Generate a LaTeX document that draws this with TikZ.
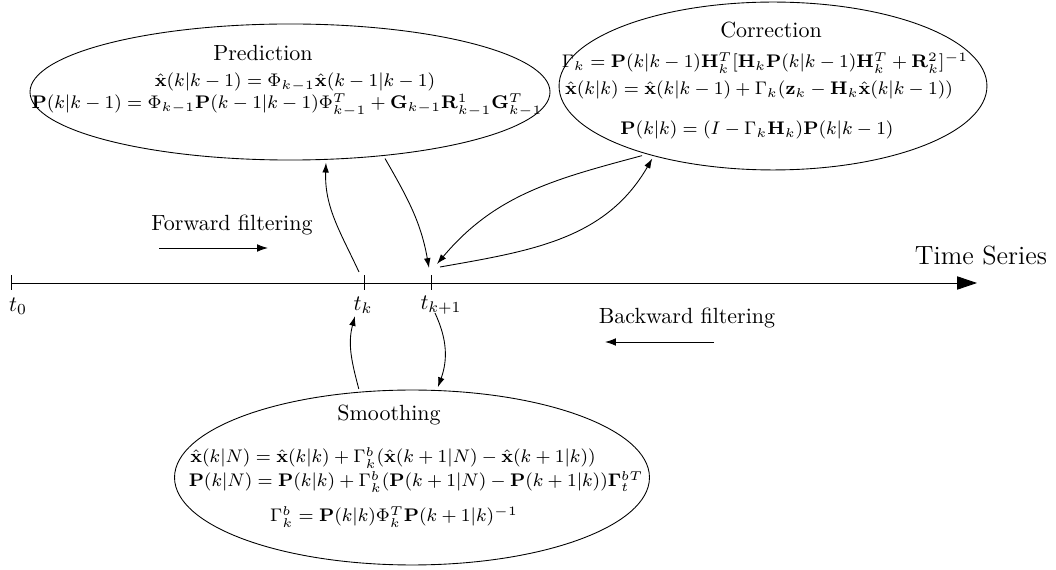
\documentclass[tikz,border=0pt]{standalone}
\usepackage{fix-cm}
\usepackage{amsmath}
\usetikzlibrary{shapes.geometric,arrows.meta}
\begin{document}
\begin{tikzpicture}[x=0.455pt, y=-0.455pt,
  phase/.style={ellipse, draw, inner sep=0pt, outer sep=1.5pt},
  eq/.style={font=\fontsize{8.3pt}{10pt}\selectfont, inner sep=1pt},
  conn/.style={-{Latex[length=4.5pt,width=3pt]}},
  dirarrow/.style={-{Latex[length=5pt,width=3.5pt]}}]
\useasboundingbox (0,0) rectangle (1056,570);
% the three phases
\node[phase, minimum width=236.6pt, minimum height=61.9pt] (pred) at (290,92) {};
\node[phase, minimum width=194.7pt, minimum height=76.4pt] (corr) at (773,86) {};
\node[phase, minimum width=216.1pt, minimum height=79.6pt] (smooth) at (412,477.5) {};
\node (predtitle) at (263,53) {Prediction};
\node[eq] (predeqa) at (295,82) {$\hat{\mathbf{x}}(k|k-1) = \Phi_{k-1}\hat{\mathbf{x}}(k-1|k-1)$};
\node[eq] (predeqb) at (287,105) {$\mathbf{P}(k|k-1) = \Phi_{k-1}\mathbf{P}(k-1|k-1)\Phi_{k-1}^T + \mathbf{G}_{k-1}\mathbf{R}_{k-1}^1\mathbf{G}_{k-1}^T$};
\node (corrtitle) at (771,30) {Correction};
\node[eq] (correqa) at (765,63) {$\Gamma_k = \mathbf{P}(k|k-1)\mathbf{H}_k^T[\mathbf{H}_k\mathbf{P}(k|k-1)\mathbf{H}_k^T + \mathbf{R}_k^2]^{-1}$};
\node[eq] (correqb) at (759,90) {$\hat{\mathbf{x}}(k|k) = \hat{\mathbf{x}}(k|k-1) + \Gamma_k(\mathbf{z}_k - \mathbf{H}_k\hat{\mathbf{x}}(k|k-1))$};
\node[eq] (correqc) at (757,130) {$\mathbf{P}(k|k) = (I - \Gamma_k\mathbf{H}_k)\mathbf{P}(k|k-1)$};
\node (smoothtitle) at (389,415) {Smoothing};
\node[eq] (smootheqa) at (393,458) {$\hat{\mathbf{x}}(k|N) = \hat{\mathbf{x}}(k|k) + \Gamma_k^b(\hat{\mathbf{x}}(k+1|N) - \hat{\mathbf{x}}(k+1|k))$};
\node[eq] (smootheqb) at (416,482) {$\mathbf{P}(k|N) = \mathbf{P}(k|k) + \Gamma_k^b(\mathbf{P}(k+1|N) - \mathbf{P}(k+1|k))\mathbf{\Gamma}_t^{bT}$};
\node[eq] (smootheqc) at (394,517) {$\Gamma_k^b = \mathbf{P}(k|k)\Phi_k^T\mathbf{P}(k+1|k)^{-1}$};
% time axis
\coordinate (t0) at (11,283);
\coordinate (tk) at (364,283);
\coordinate (tk1) at (431,283);
\coordinate (tend) at (977,283);
\draw[-{Triangle[length=9pt,width=6pt]}] (t0) -- (tend);
\foreach \t in {t0,tk,tk1}
  \draw (\t) ++(0,-7.5) -- ++(0,15);
\node[font=\large] (tslabel) at (981,255) {Time Series};
\node (lt0) at (18,306) {$t_0$};
\node (ltk) at (363,305) {$t_k$};
\node (ltk1) at (441,305) {$t_{k+1}$};
% filtering directions
\node (fwtext) at (232,225) {Forward filtering};
\coordinate (fwa) at (159,248);
\coordinate (fwb) at (268,248);
\draw[dirarrow] (fwa) -- (fwb);
\node (bwtext) at (687,318) {Backward filtering};
\coordinate (bwa) at (714,342);
\coordinate (bwb) at (605,342);
\draw[dirarrow] (bwa) -- (bwb);
% connectors
\coordinate (kup) at (359,272);
\coordinate (konein) at (429,268);
\coordinate (koneback) at (437,264);
\coordinate (koneout) at (440,267);
\coordinate (kdown) at (355,316);
\coordinate (konedown) at (435,313);
\draw[conn] (kup) to[out=115, in=-92] (pred.-63);
\draw[conn] (pred.-35) to[out=-60, in=100] (konein);
\draw[conn] (koneout) to[out=10, in=-120] (corr.-149);
\draw[conn] (corr.-152) to[out=195, in=50] (koneback);
\draw[conn] (smooth.121) to[out=105, in=-105] (kdown);
\draw[conn] (konedown) to[out=-65, in=70] (smooth.74);
\end{tikzpicture}
\end{document}
